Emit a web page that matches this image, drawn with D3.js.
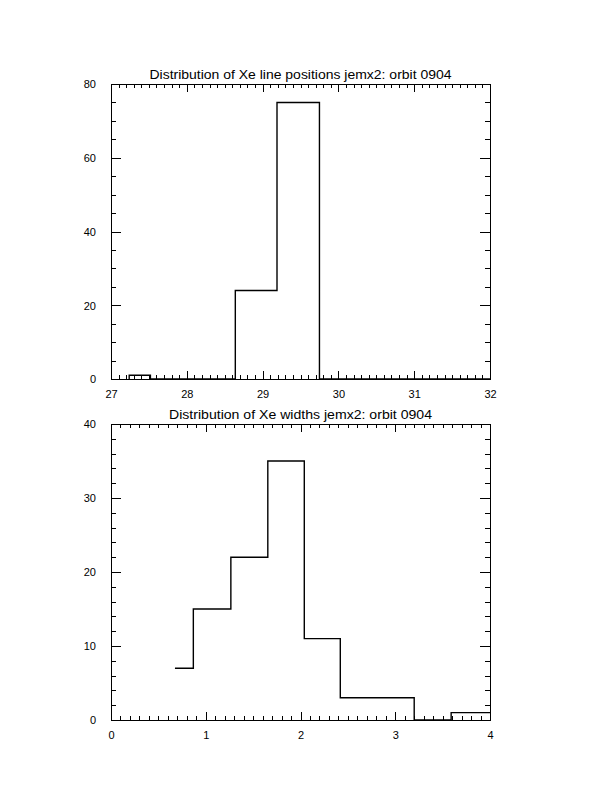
<!DOCTYPE html>
<html><head><meta charset="utf-8">
<script src="https://cdn.jsdelivr.net/npm/d3@7"></script>
<style>body{margin:0;background:#fff}</style></head>
<body>
<svg id="c" width="612" height="792" xmlns="http://www.w3.org/2000/svg"></svg>
<script>
// ---- data ----
const posTitle = "Distribution of Xe line positions jemx2: orbit 0904";
const posEdges = [27.24, 27.52, 28.64, 29.19, 29.75, 32];
const posCounts = [1, 0, 24, 75, 0];
const posXTicks = [27, 28, 29, 30, 31, 32];
const posYTicks = [0, 20, 40, 60, 80];

const widTitle = "Distribution of Xe widths jemx2: orbit 0904";
const widEdges = [0.675, 0.869, 1.265, 1.655, 2.04, 2.42, 2.81, 3.20, 3.59, 4.0];
const widCounts = [7, 15, 22, 35, 11, 3, 3, 0, 1];
const widXTicks = [0, 1, 2, 3, 4];
const widYTicks = [0, 10, 20, 30, 40];

const svg = d3.select("#c");
svg.append("rect").attr("width", 612).attr("height", 792).attr("fill", "#fff");

function panel(o) {
  const x = d3.scaleLinear().domain(o.xd).range([111, 490]);
  const y = d3.scaleLinear().domain(o.yd).range([o.b, o.t]);
  const g = svg.append("g");
  const FONT = "'Liberation Sans', Arial, sans-serif";

  const eps = 1e-9;
  const minorX = d3.range(o.xd[0], o.xd[1] + eps, o.mx).filter(v => !o.xt.some(t => Math.abs(t - v) < 1e-6));
  const minorY = d3.range(o.yd[0], o.yd[1] + eps, o.my).filter(v => !o.yt.some(t => Math.abs(t - v) < 1e-6));

  const XM = 8, Xm = 4, YM = 10, Ym = 5;
  // bottom axis with labels
  const ax = g.append("g").attr("transform", `translate(0,${o.b})`)
    .call(d3.axisBottom(x).tickValues(o.xt).tickSizeInner(-XM).tickSizeOuter(0).tickPadding(XM + 3).tickFormat(d3.format("d")));
  g.append("g").attr("transform", `translate(0,${o.b})`)
    .call(d3.axisBottom(x).tickValues(minorX).tickSizeInner(-Xm).tickSizeOuter(0).tickFormat(""));
  // top axis
  g.append("g").attr("transform", `translate(0,${o.t})`)
    .call(d3.axisTop(x).tickValues(o.xt).tickSizeInner(-XM).tickSizeOuter(0).tickFormat(""));
  g.append("g").attr("transform", `translate(0,${o.t})`)
    .call(d3.axisTop(x).tickValues(minorX).tickSizeInner(-Xm).tickSizeOuter(0).tickFormat(""));
  // left axis with labels
  const ay = g.append("g").attr("transform", `translate(111,0)`)
    .call(d3.axisLeft(y).tickValues(o.yt).tickSizeInner(-YM).tickSizeOuter(0).tickPadding(YM + 5).tickFormat(d3.format("d")));
  g.append("g").attr("transform", `translate(111,0)`)
    .call(d3.axisLeft(y).tickValues(minorY).tickSizeInner(-Ym).tickSizeOuter(0).tickFormat(""));
  // right axis
  g.append("g").attr("transform", `translate(490,0)`)
    .call(d3.axisRight(y).tickValues(o.yt).tickSizeInner(-YM).tickSizeOuter(0).tickFormat(""));
  g.append("g").attr("transform", `translate(490,0)`)
    .call(d3.axisRight(y).tickValues(minorY).tickSizeInner(-Ym).tickSizeOuter(0).tickFormat(""));

  g.selectAll(".domain").remove();
  g.selectAll(".tick line").attr("stroke", "#000").attr("shape-rendering", "crispEdges");
  g.selectAll(".tick text").attr("fill", "#000").attr("font-family", FONT).attr("font-size", 11);
  ay.selectAll(".tick text").attr("dy", "0.36em");

  // frame
  g.append("rect").attr("x", 111).attr("y", o.t).attr("width", 379).attr("height", o.b - o.t)
    .attr("fill", "none").attr("stroke", "#000").attr("shape-rendering", "crispEdges");

  // histogram step line
  const pts = [];
  if (o.fromBase) pts.push([o.e[0], 0]);
  o.c.forEach((c, i) => {
    pts.push([o.e[i], c]);
    pts.push([o.e[i + 1], c]);
  });
  g.append("path").attr("d", d3.line().x(d => x(d[0])).y(d => y(d[1]))(pts))
    .attr("fill", "none").attr("stroke", "#000").attr("stroke-width", 1.4);

  // title
  g.append("text").attr("x", 300.5).attr("y", o.t - 5).attr("text-anchor", "middle")
    .attr("font-family", FONT).attr("font-size", 12).attr("fill", "#000")
    .attr("textLength", o.tl).attr("lengthAdjust", "spacingAndGlyphs").text(o.title);
}

panel({ xd: [27, 32], yd: [0, 80], t: 84, b: 379, xt: posXTicks, yt: posYTicks, mx: 0.1, my: 5,
        e: posEdges, c: posCounts, fromBase: true, title: posTitle, tl: 302 });
panel({ xd: [0, 4], yd: [0, 40], t: 424, b: 720, xt: widXTicks, yt: widYTicks, mx: 0.1, my: 2,
        e: widEdges, c: widCounts, fromBase: false, title: widTitle, tl: 263 });
</script>
</body></html>
